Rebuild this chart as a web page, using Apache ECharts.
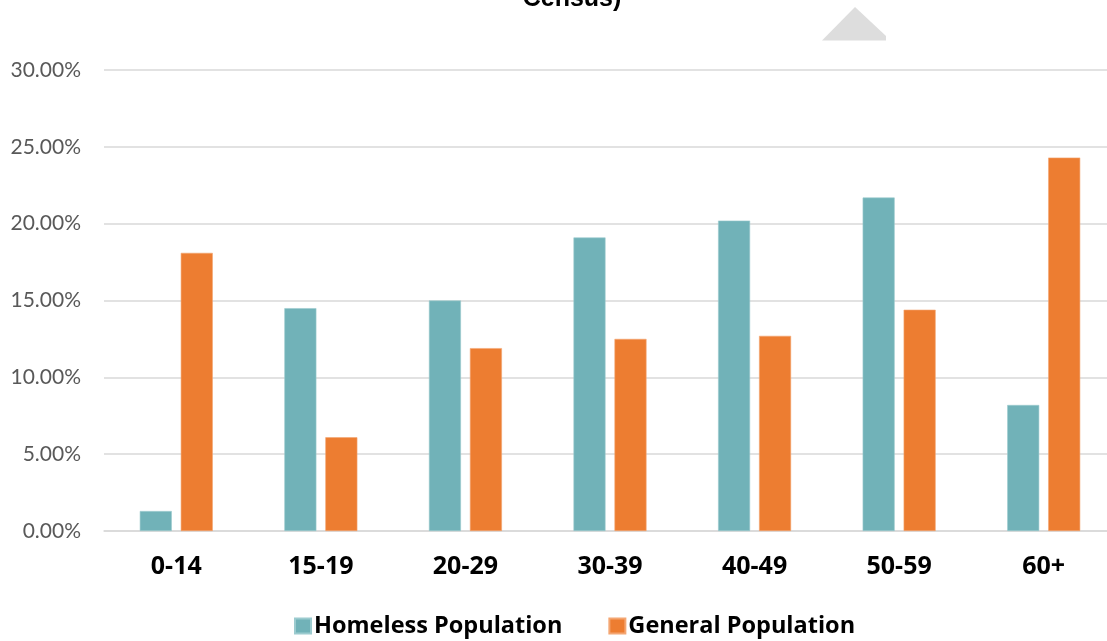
<!DOCTYPE html>
<html>
<head>
<meta charset="utf-8">
<script src="https://cdn.jsdelivr.net/npm/echarts@6/dist/echarts.min.js"></script>
<style>
  html, body { margin: 0; padding: 0; background: #ffffff; }
  #chart { width: 1107px; height: 641px; }
</style>
</head>
<body>
<div id="chart"></div>
<script>
// Age groups and share of each population (%)
const ageGroups = ['0-14', '15-19', '20-29', '30-39', '40-49', '50-59', '60+'];
const homelessPopulation = [1.3, 14.5, 15.0, 19.1, 20.2, 21.7, 8.2];
const generalPopulation = [18.1, 6.1, 11.9, 12.5, 12.7, 14.4, 24.3];
const seriesNames = ['Homeless Population', 'General Population'];
const titleText = 'Census)';

const LABEL_FONT = 'Lato, "Open Sans", sans-serif';
const BOLD_FONT = '"Open Sans", Lato, sans-serif';

const chart = echarts.init(document.getElementById('chart'), null, { renderer: 'canvas' });

chart.setOption({
  animation: false,
  backgroundColor: '#ffffff',
  title: {
    text: titleText,
    left: 567,
    textAlign: 'center',
    top: -18,
    textStyle: { fontFamily: '"Liberation Sans", Arial, sans-serif', fontWeight: 'bold', fontSize: 25, color: '#000000' }
  },
  graphic: [{
    type: 'polygon',
    shape: { points: [[822, 40.5], [855, 7], [886, 36], [886, 40.5]] },
    style: { fill: '#DDDDDD' },
    silent: true
  }],
  legend: {
    bottom: -2,
    left: 289,
    icon: 'rect',
    itemWidth: 16,
    itemHeight: 15,
    itemGap: 46,
    data: seriesNames,
    textStyle: { fontFamily: BOLD_FONT, fontWeight: 'bold', fontSize: 23.5, color: '#000000', padding: [0, 0, 0, -2] }
  },
  // the plot area runs slightly past the right edge of the canvas
  grid: { left: 104, width: 1012, top: 70, bottom: 110, containLabel: false, outerBoundsMode: 'none' },
  xAxis: {
    type: 'category',
    data: ageGroups,
    axisLine: { show: true, lineStyle: { color: '#D9D9D9', width: 1.5 } },
    axisTick: { show: false },
    axisLabel: { fontFamily: BOLD_FONT, fontWeight: 'bold', fontSize: 25, color: '#000000', margin: 23 }
  },
  yAxis: {
    type: 'value',
    min: 0,
    max: 30,
    interval: 5,
    axisLine: { show: false },
    axisTick: { show: false },
    splitLine: { lineStyle: { color: '#D9D9D9', width: 1.5 } },
    axisLabel: {
      fontFamily: LABEL_FONT, fontSize: 21, color: '#595959', margin: 23,
      formatter: v => v.toFixed(2) + '%'
    }
  },
  series: [
    {
      name: seriesNames[0],
      type: 'bar',
      data: homelessPopulation,
      barGap: '28%',
      barCategoryGap: '49.5%',
      itemStyle: { color: '#71B2B8', borderColor: '#9CCBCF', borderWidth: 0.6 }
    },
    {
      name: seriesNames[1],
      type: 'bar',
      data: generalPopulation,
      barGap: '28%',
      barCategoryGap: '49.5%',
      itemStyle: { color: '#ED7D31', borderColor: '#F4A672', borderWidth: 0.6 }
    }
  ]
});
</script>
</body>
</html>
